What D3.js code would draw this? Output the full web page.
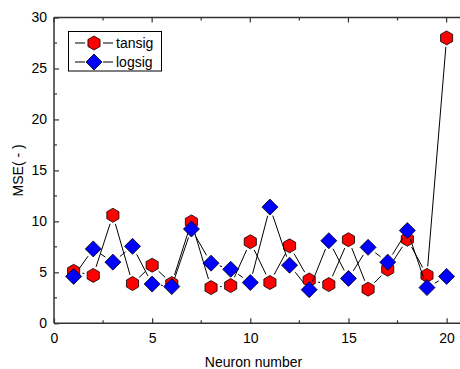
<!DOCTYPE html>
<html>
<head>
<meta charset="utf-8">
<script src="https://cdn.jsdelivr.net/npm/d3@7"></script>
<style>
  html, body { margin: 0; padding: 0; background: #fff; }
  svg { display: block; }
  text { font-family: "Liberation Sans", Arial, sans-serif; fill: #000; }
</style>
</head>
<body>
<script>
const neurons = [1,2,3,4,5,6,7,8,9,10,11,12,13,14,15,16,17,18,19,20];
const tansig = [5.1,4.7,10.6,3.9,5.7,3.9,9.95,3.5,3.7,8.0,4.0,7.6,4.25,3.8,8.2,3.35,5.3,8.25,4.7,28.0];
const logsig = [4.6,7.3,6.0,7.55,3.85,3.6,9.25,5.9,5.3,4.0,11.4,5.7,3.3,8.1,4.4,7.45,6.0,9.1,3.5,4.6];
const seriesNames = ["tansig", "logsig"];
const xTicks = [0,5,10,15,20];
const yTicks = [0,5,10,15,20,25,30];
const xLabel = "Neuron number";
const yLabel = "MSE( - )";

const W = 460, H = 369;
const L = 54, R = 461, T = 17.5, B = 323.3;

const svg = d3.select("body").append("svg").attr("width", W).attr("height", H);

const x = d3.scaleLinear().domain([0, 20]).range([L, L + 20 * 19.63]);
const y = d3.scaleLinear().domain([0, 30]).range([B, T]);

// axes
const axisColor = "#333";
const g = svg.append("g");
// bottom
const xAxisB = d3.axisBottom(x).tickValues(xTicks).tickSize(-5).tickPadding(8).tickFormat(d3.format("d"));
const gb = g.append("g").attr("transform", `translate(0,${B})`).call(xAxisB);
gb.select(".domain").remove();
gb.selectAll("line").attr("stroke", axisColor).attr("stroke-width", 1.2);
gb.selectAll("text").attr("font-size", 14).attr("font-family", "Liberation Sans, Arial, sans-serif").attr("dy", "0.71em").attr("y", 10);
// minor bottom
const xMinor = [2.5, 7.5, 12.5, 17.5];
g.append("g").selectAll("line").data(xMinor).join("line")
  .attr("x1", d => x(d)).attr("x2", d => x(d)).attr("y1", B).attr("y2", B - 3)
  .attr("stroke", axisColor).attr("stroke-width", 1.2);
// top ticks
g.append("g").selectAll("line").data(xTicks.concat(xMinor)).join("line")
  .attr("x1", d => x(d)).attr("x2", d => x(d)).attr("y1", T).attr("y2", d => T + (xTicks.includes(d) ? 5 : 3))
  .attr("stroke", axisColor).attr("stroke-width", 1.2);
// left
const yAxis = d3.axisLeft(y).tickValues(yTicks).tickSize(-5).tickPadding(7).tickFormat(d3.format("d"));
const gl = g.append("g").attr("transform", `translate(${L},0)`).call(yAxis);
gl.select(".domain").remove();
gl.selectAll("line").attr("stroke", axisColor).attr("stroke-width", 1.2);
gl.selectAll("text").attr("font-size", 14).attr("font-family", "Liberation Sans, Arial, sans-serif").attr("x", -7);
const yMinor = [2.5, 7.5, 12.5, 17.5, 22.5, 27.5];
g.append("g").selectAll("line").data(yMinor).join("line")
  .attr("x1", L).attr("x2", L + 3).attr("y1", d => y(d)).attr("y2", d => y(d))
  .attr("stroke", axisColor).attr("stroke-width", 1.2);
// frame lines
g.append("line").attr("x1", L).attr("x2", L).attr("y1", T).attr("y2", B).attr("stroke", axisColor).attr("stroke-width", 1.5);
g.append("line").attr("x1", L).attr("x2", R).attr("y1", B).attr("y2", B).attr("stroke", axisColor).attr("stroke-width", 1.5);
g.append("line").attr("x1", L).attr("x2", R).attr("y1", T).attr("y2", T).attr("stroke", axisColor).attr("stroke-width", 1.5);

// titles
svg.append("text").attr("x", (L + 447) / 2 + 3).attr("y", 367).attr("text-anchor", "middle").attr("font-size", 14).text(xLabel);
svg.append("text").attr("transform", `translate(23,${(T + B) / 2}) rotate(-90)`).attr("text-anchor", "middle").attr("font-size", 14).text(yLabel);

// symbols
const hexPath = r => {
  const pts = d3.range(6).map(i => {
    const a = Math.PI / 3 * i - Math.PI / 2;
    return [r * Math.cos(a), r * Math.sin(a)];
  });
  return "M" + pts.map(p => p.join(",")).join("L") + "Z";
};
const diaPath = r => `M0,${-r}L${r},0L0,${r}L${-r},0Z`;

const gap = 9;
function drawSeries(vals, path, fill) {
  const pts = vals.map((v, i) => [x(neurons[i]), y(v)]);
  const segs = [];
  for (let i = 0; i < pts.length - 1; i++) {
    const [x1, y1] = pts[i], [x2, y2] = pts[i + 1];
    const dx = x2 - x1, dy = y2 - y1, len = Math.hypot(dx, dy);
    if (len > 2 * gap) {
      const ux = dx / len, uy = dy / len;
      segs.push([x1 + ux * gap, y1 + uy * gap, x2 - ux * gap, y2 - uy * gap]);
    }
  }
  svg.append("g").selectAll("line").data(segs).join("line")
    .attr("x1", d => d[0]).attr("y1", d => d[1]).attr("x2", d => d[2]).attr("y2", d => d[3])
    .attr("stroke", "#000").attr("stroke-width", 1);
  svg.append("g").selectAll("path").data(pts).join("path")
    .attr("transform", d => `translate(${d[0]},${d[1]})`)
    .attr("d", path).attr("fill", fill).attr("stroke", "#000").attr("stroke-width", 0.8);
}
drawSeries(tansig, hexPath(7), "#ff0000");
drawSeries(logsig, diaPath(8), "#0000ff");

// legend
const lg = svg.append("g");
lg.append("rect").attr("x", 68.5).attr("y", 31.5).attr("width", 93).attr("height", 39.5)
  .attr("fill", "#fff").attr("stroke", "#000").attr("stroke-width", 1);
const legendItems = [
  { name: seriesNames[0], path: hexPath(7), fill: "#ff0000", cy: 43 },
  { name: seriesNames[1], path: diaPath(8), fill: "#0000ff", cy: 62 }
];
legendItems.forEach(it => {
  lg.append("line").attr("x1", 75).attr("x2", 85).attr("y1", it.cy).attr("y2", it.cy).attr("stroke", "#000");
  lg.append("line").attr("x1", 103).attr("x2", 113).attr("y1", it.cy).attr("y2", it.cy).attr("stroke", "#000");
  lg.append("path").attr("transform", `translate(94,${it.cy})`).attr("d", it.path)
    .attr("fill", it.fill).attr("stroke", "#000").attr("stroke-width", 0.8);
  lg.append("text").attr("x", 116).attr("y", it.cy + 5).attr("font-size", 14).text(it.name);
});
</script>
</body>
</html>
